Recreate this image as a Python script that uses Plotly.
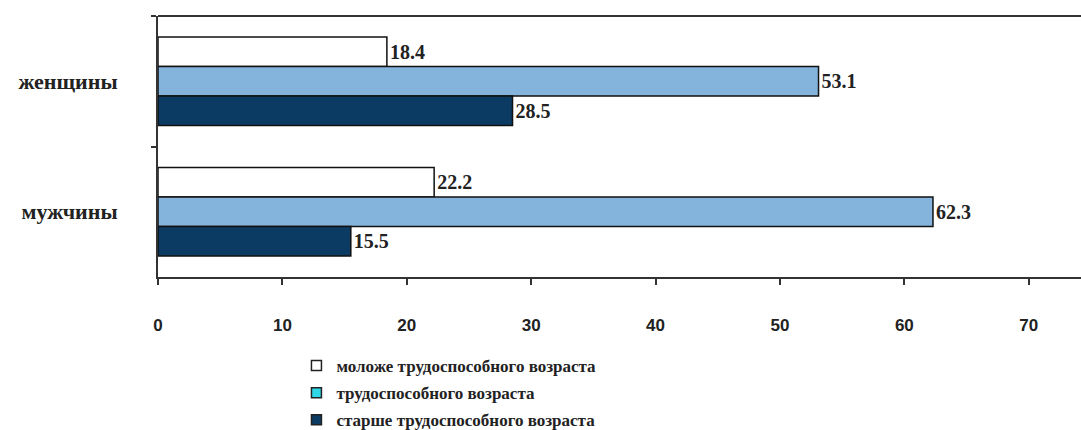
import plotly.graph_objects as go

categories = ["женщины", "мужчины"]
series_names = ["моложе трудоспособного возраста",
                "трудоспособного возраста",
                "старше трудоспособного возраста"]
younger = [18.4, 22.2]
working = [53.1, 62.3]
older = [28.5, 15.5]
x_ticks = [0, 10, 20, 30, 40, 50, 60, 70]

bar_colors = ["#ffffff", "#84b3dc", "#0b3b63"]
legend_colors = ["#ffffff", "#2ed6e6", "#0b3b63"]
values = [younger, working, older]

serif_bold = "Liberation Serif"

fig = go.Figure()
for name, vals, col in zip(series_names, values, bar_colors):
    fig.add_trace(go.Bar(
        y=categories, x=vals, orientation="h", name=name,
        marker=dict(color=col, line=dict(color="#111111", width=1.5)),
        text=[f"{v:.1f}" for v in vals], textposition="outside",
        textfont=dict(family=serif_bold, size=20, color="#222222", weight="bold"),
        cliponaxis=False, showlegend=False,
    ))

for i, (name, col) in enumerate(zip(series_names, legend_colors)):
    fig.add_trace(go.Scatter(
        x=[None], y=[None], mode="markers", name=name,
        legendgroup=f"g{i}",
        marker=dict(symbol="square", size=10, color=col,
                    line=dict(color="#222222", width=1.5)),
    ))

fig.update_layout(
    width=1081, height=430,
    margin=dict(l=158, r=0, t=16, b=153, autoexpand=False),
    paper_bgcolor="white", plot_bgcolor="white",
    barmode="group", bargap=0.32, bargroupgap=0,
    showlegend=True,
    legend=dict(x=0.150, y=-0.272, xanchor="left", yanchor="top",
                font=dict(family=serif_bold, size=17, color="#222222", weight="bold"),
                tracegroupgap=2, bgcolor="rgba(0,0,0,0)",
                itemwidth=30),
    shapes=[dict(type="line", xref="paper", yref="paper", x0=0, x1=1, y0=1, y1=1,
                 line=dict(color="#333333", width=2))],
)
fig.update_xaxes(range=[0, 74.2], tickvals=x_ticks, ticks="outside", ticklen=6,
                 tickwidth=1.5, tickcolor="#333333",
                 showline=True, linecolor="#333333", linewidth=2,
                 showgrid=False, zeroline=False,
                 tickfont=dict(family="Liberation Sans", size=17, color="#222222", weight="bold"),
                 ticklabelstandoff=26)
fig.update_yaxes(autorange="reversed", ticks="outside", ticklen=5, tickwidth=1.5,
                 tickcolor="#333333", tickson="boundaries",
                 showline=True, linecolor="#333333", linewidth=2, showgrid=False,
                 tickfont=dict(family=serif_bold, size=22, color="#222222", weight="bold"),
                 ticklabelstandoff=34)

fig.write_html("out.html", config={"displayModeBar": False},
               post_script="document.body.style.margin='0';")
